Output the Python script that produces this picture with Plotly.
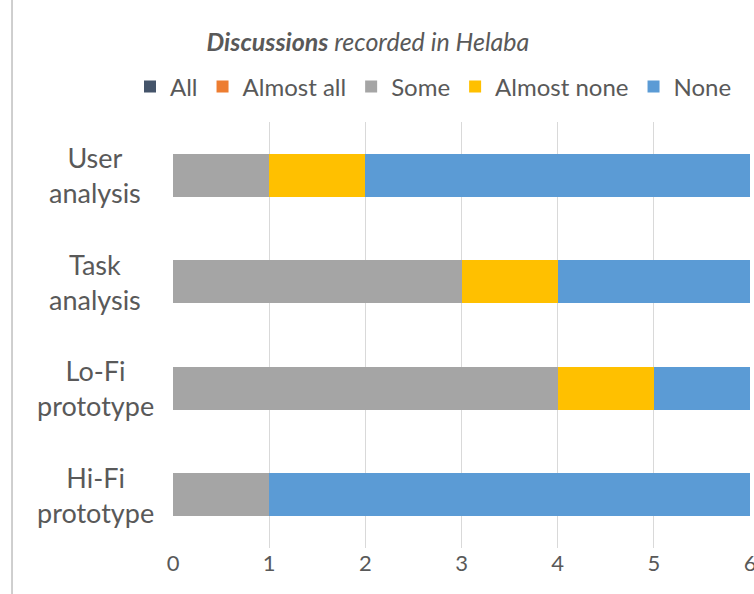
import plotly.graph_objects as go

categories = ["User<br>analysis", "Task<br>analysis", "Lo-Fi<br>prototype", "Hi-Fi<br>prototype"]
series_names = ["All", "Almost all", "Some", "Almost none", "None"]
v_all = [0, 0, 0, 0]
v_almost_all = [0, 0, 0, 0]
v_some = [1, 3, 4, 1]
v_almost_none = [1, 1, 1, 0]
v_none = [4, 2, 1, 5]
x_ticks = [0, 1, 2, 3, 4, 5, 6]

colors = ["#44546A", "#ED7D31", "#A5A5A5", "#FFC000", "#5B9BD5"]
values = [v_all, v_almost_all, v_some, v_almost_none, v_none]

FONT = "Lato"
TXT = "#595959"

fig = go.Figure()
for name, vals, col in zip(series_names, values, colors):
    fig.add_trace(go.Bar(
        y=categories, x=vals, name=name, orientation="h",
        marker=dict(color=col, line=dict(width=0)),
    ))

for c in categories:
    fig.add_annotation(
        x=-0.135, xref="paper", y=c, yref="y", text=c, showarrow=False,
        align="center", xanchor="center", yanchor="middle",
        font=dict(family=FONT, size=27, color=TXT),
    )

fig.add_shape(type="line", xref="paper", yref="paper",
              x0=-0.279, x1=-0.279, y0=-0.11, y1=1.29,
              line=dict(color="#BFBFBF", width=1.5))

fig.update_layout(
    width=754, height=594,
    barmode="stack", bargap=0.6,
    plot_bgcolor="white", paper_bgcolor="white",
    margin=dict(l=173, r=4, t=122, b=46),
    title=dict(
        text="<b><i>Discussions</i></b><i> recorded in Helaba</i>",
        x=0.488, xref="container", xanchor="center",
        y=1 - 42 / 594, yref="container", yanchor="middle",
        font=dict(family=FONT, size=25, color=TXT),
    ),
    legend=dict(
        orientation="h", xref="paper", x=(130 - 173) / 577, xanchor="left",
        yref="paper", y=(548 - 87) / 426, yanchor="middle",
        font=dict(family=FONT, size=24, color=TXT),
        itemwidth=30, traceorder="normal", tracegroupgap=0,
    ),
    xaxis=dict(
        range=[0, 6], tickvals=x_ticks, showgrid=True, gridcolor="#D9D9D9",
        gridwidth=1, zeroline=False, showline=False, ticks="",
        tickfont=dict(family=FONT, size=22, color=TXT), automargin=False,
        ticklabeloverflow="allow",
    ),
    yaxis=dict(
        autorange="reversed", showticklabels=False, showgrid=False,
        zeroline=False, showline=False, ticks="",
    ),
)

fig.write_html("out.html")
